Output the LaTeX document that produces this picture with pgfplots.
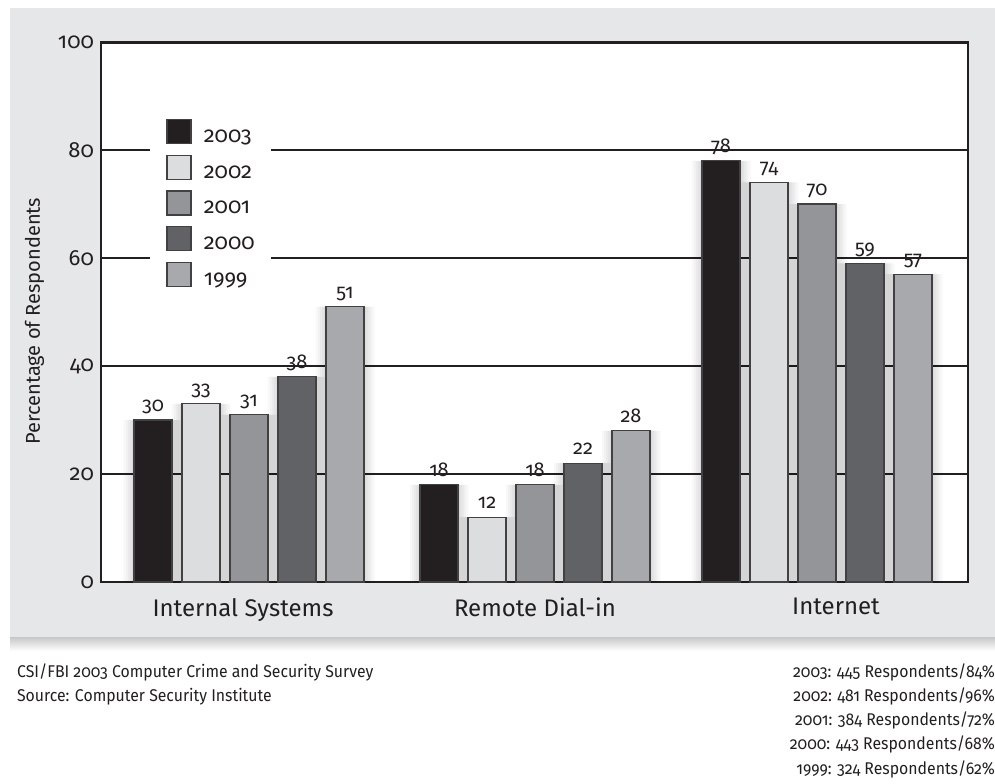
\documentclass[border=0pt]{standalone}
\usepackage{fontspec}
\setmainfont{Fira Sans}[Numbers=OldStyle]
\newfontfamily\footfont{Fira Sans}[Numbers=OldStyle, FakeStretch=0.93]
\usepackage{pgfplots}
\usepackage{pgfplotstable}
\pgfplotsset{compat=1.18}
\definecolor{panel}{HTML}{E6E7E8}
\definecolor{ink}{HTML}{231F20}
\definecolor{c2003}{HTML}{231F20}
\definecolor{c2002}{HTML}{DCDDDF}
\definecolor{c2001}{HTML}{939598}
\definecolor{c2000}{HTML}{616265}
\definecolor{c1999}{HTML}{A7A9AC}
\definecolor{barline}{HTML}{414042}
\pgfplotstableread{
x    y2003 y2002 y2001 y2000 y1999
249  30    33    31    38    51
535  18    12    18    22    28
817  78    74    70    59    57
}\data
\pgfplotsset{
  sqlegend/.style={legend image code/.code={\draw[##1,draw=barline,line width=0.7pt] (0pt,-3.25pt) rectangle (12pt,8.75pt);}},
  shadowbar/.style={forget plot, draw=none, fill=black, fill opacity=0.028},
  realbar/.style={draw=barline, line width=0.6pt, sqlegend, nodes near coords},
}
\newcommand\shadowbars[2]{%
  \addplot[shadowbar, bar width=42, bar shift=#2] table[x=x,y=#1]{\data};
  \addplot[shadowbar, bar width=46, bar shift=#2] table[x=x,y=#1]{\data};
  \addplot[shadowbar, bar width=50, bar shift=#2] table[x=x,y=#1]{\data};
  \addplot[shadowbar, bar width=54, bar shift=#2] table[x=x,y=#1]{\data};
  \addplot[shadowbar, bar width=59, bar shift=#2] table[x=x,y=#1]{\data};
}
\begin{document}
\begin{tikzpicture}
\useasboundingbox (0pt,0pt) rectangle (497.5pt,391.5pt);
\shade[top color=black!22, bottom color=white] (5pt,66pt) rectangle (497.5pt,73pt);
\fill[panel] (5pt,73pt) rectangle (497.5pt,387.5pt);
\begin{axis}[
  at={(50.5pt,100.5pt)}, anchor=south west,
  scale only axis, width=433.5pt, height=270pt,
  xmin=101, xmax=968, ymin=0, ymax=100,
  axis background/.style={fill=white},
  axis line style={line width=1pt, ink},
  ymajorgrids, grid style={line width=1pt, ink},
  major tick length=0pt,
  ytick={0,20,40,60,80,100},
  /pgf/number format/assume math mode=true,
  yticklabel style={font=\fontsize{11}{13}\selectfont, text=ink},
  xtick={243,535,836},
  xticklabels={Internal Systems, Remote Dial-in, Internet},
  xticklabel style={font=\fontsize{12}{14}\selectfont, text=ink, yshift=-4.5pt},
  ylabel={Percentage of Respondents},
  ylabel style={font=\fontsize{10}{12}\selectfont, text=ink},
  every axis y label/.append style={at={(ticklabel cs:0.483)}},
  ybar, bar width=38,
  every node near coord/.append style={font=\fontsize{10}{12}\selectfont, text=ink, text depth=0pt, inner sep=0pt, yshift=4pt},
  legend style={at={(0.0565,0.877)}, anchor=north west, draw=none, fill=white,
    font=\fontsize{11}{13}\selectfont, text=ink, row sep=2.75pt,
    inner xsep=8pt, inner ysep=5pt,
    nodes={text height=8.75pt, text depth=3.25pt, inner sep=0pt}},
  legend cell align=left,
]
\shadowbars{y2003}{-96}
\shadowbars{y2002}{-48}
\shadowbars{y2001}{0}
\shadowbars{y2000}{48}
\shadowbars{y1999}{96}
\addplot[realbar, fill=c2003, bar shift=-96] table[x=x,y=y2003]{\data};
\addplot[realbar, fill=c2002, bar shift=-48] table[x=x,y=y2002]{\data};
\addplot[realbar, fill=c2001, bar shift=0]   table[x=x,y=y2001]{\data};
\addplot[realbar, fill=c2000, bar shift=48]  table[x=x,y=y2000]{\data};
\addplot[realbar, fill=c1999, bar shift=96]  table[x=x,y=y1999]{\data};
\legend{\hspace{6pt}2003,\hspace{6pt}2002,\hspace{6pt}2001,\hspace{6pt}2000,\hspace{6pt}1999}
\draw[line width=1.6pt, ink] (rel axis cs:0,1) -- (rel axis cs:1,1);
\end{axis}
\begin{scope}[font=\footfont\fontsize{8.5}{10}\selectfont, text=ink]
\node[anchor=west] at (5pt,55.5pt) {CSI/FBI 2003 Computer Crime and Security Survey};
\node[anchor=west] at (5pt,43pt) {Source: Computer Security Institute};
\node[anchor=east] at (501pt,55.5pt) {2003: 445 Respondents/84\%};
\node[anchor=east] at (501pt,43.5pt) {2002: 481 Respondents/96\%};
\node[anchor=east] at (501pt,31.5pt) {2001: 384 Respondents/72\%};
\node[anchor=east] at (501pt,19.5pt) {2000: 443 Respondents/68\%};
\node[anchor=east] at (501pt,7pt) {1999: 324 Respondents/62\%};
\end{scope}
\end{tikzpicture}
\end{document}
